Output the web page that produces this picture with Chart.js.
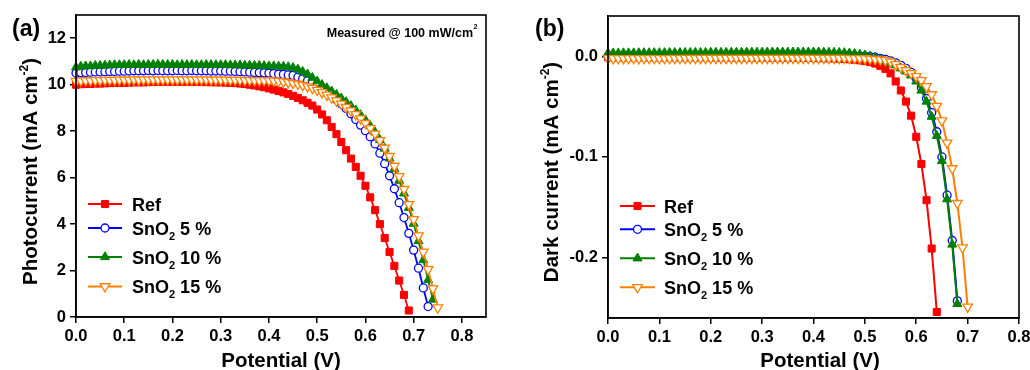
<!DOCTYPE html>
<html><head><meta charset="utf-8">
<script src="https://cdn.jsdelivr.net/npm/chart.js@4.4.1/dist/chart.umd.min.js"></script>
<style>
html,body{margin:0;padding:0;background:#fff;}
#wrap{position:relative;width:1030px;height:370px;overflow:hidden;background:#fff;}
canvas{position:absolute;top:0;}
#ca{left:0;} #cb{left:515px;}
</style></head><body>
<div id="wrap">
<canvas id="ca" width="515" height="370" style="width:515px;height:370px"></canvas>
<canvas id="cb" width="515" height="370" style="width:515px;height:370px"></canvas>
</div>
<script>
// ---------- DATA ----------
const potentialA = [0.00,0.01,0.02,0.03,0.04,0.05,0.06,0.07,0.08,0.09,
 0.10,0.11,0.12,0.13,0.14,0.15,0.16,0.17,0.18,0.19,
 0.20,0.21,0.22,0.23,0.24,0.25,0.26,0.27,0.28,0.29,
 0.30,0.31,0.32,0.33,0.34,0.35,0.36,0.37,0.38,0.39,
 0.40,0.41,0.42,0.43,0.44,0.45,0.46,0.47,0.48,0.49,
 0.50,0.51,0.52,0.53,0.54,0.55,0.56,0.57,0.58,0.59,
 0.60,0.61,0.62,0.63,0.64,0.65,0.66,0.67,0.68,0.69,
 0.70,0.71,0.72,0.73,0.74,0.75];
const potentialB = potentialA.slice(0, 71);

// (a) photocurrent, mA cm-2
const refA = [10.00,10.02,10.03,10.03,10.05,10.05,10.06,10.07,10.08,10.08,
 10.08,10.09,10.10,10.10,10.10,10.11,10.12,10.12,10.12,10.12,
 10.13,10.13,10.12,10.13,10.12,10.12,10.12,10.11,10.11,10.10,
 10.10,10.09,10.08,10.07,10.05,10.03,10.00,9.97,9.93,9.89,
 9.84,9.79,9.73,9.67,9.60,9.52,9.43,9.33,9.22,9.10,
 8.93,8.72,8.47,8.18,7.87,7.53,7.18,6.82,6.46,6.08,
 5.65,5.15,4.60,4.00,3.40,2.80,2.20,1.57,0.95,0.28];
const sno5A = [10.50,10.52,10.53,10.54,10.55,10.55,10.56,10.57,10.57,10.58,
 10.58,10.59,10.60,10.60,10.60,10.61,10.60,10.61,10.60,10.60,
 10.60,10.61,10.60,10.60,10.61,10.60,10.60,10.60,10.59,10.59,
 10.59,10.58,10.58,10.57,10.56,10.55,10.54,10.53,10.52,10.51,
 10.50,10.48,10.46,10.44,10.42,10.40,10.33,10.25,10.17,10.07,
 9.95,9.82,9.68,9.52,9.35,9.17,8.98,8.75,8.50,8.26,
 8.02,7.76,7.45,7.05,6.60,6.08,5.52,4.92,4.28,3.60,
 2.88,2.10,1.25,0.45];
const sno10A = [10.75,10.78,10.80,10.80,10.82,10.82,10.83,10.84,10.85,10.85,
 10.85,10.86,10.85,10.86,10.85,10.86,10.86,10.87,10.86,10.86,
 10.86,10.85,10.86,10.85,10.86,10.85,10.85,10.86,10.85,10.85,
 10.85,10.85,10.84,10.84,10.84,10.83,10.83,10.82,10.82,10.81,
 10.80,10.80,10.79,10.78,10.76,10.73,10.66,10.56,10.45,10.30,
 10.15,10.00,9.86,9.72,9.57,9.42,9.26,9.09,8.90,8.70,
 8.48,8.22,7.95,7.62,7.25,6.83,6.37,5.87,5.32,4.70,
 4.02,3.27,2.45,1.60,0.75];
const sno15A = [10.15,10.17,10.18,10.18,10.19,10.19,10.20,10.20,10.20,10.21,
 10.21,10.21,10.22,10.21,10.22,10.22,10.22,10.22,10.22,10.22,
 10.22,10.22,10.22,10.22,10.22,10.22,10.22,10.22,10.21,10.21,
 10.21,10.21,10.20,10.20,10.20,10.19,10.19,10.18,10.18,10.18,
 10.18,10.17,10.15,10.13,10.10,10.07,10.03,9.98,9.92,9.85,
 9.77,9.67,9.56,9.44,9.31,9.17,9.03,8.88,8.72,8.54,
 8.34,8.12,7.88,7.60,7.28,6.92,6.50,6.05,5.50,4.85,
 4.20,3.50,2.80,2.05,1.22,0.40];

// (b) dark current, mA cm-2
const refB = [-0.0010,-0.0010,-0.0011,-0.0010,-0.0010,-0.0011,-0.0010,-0.0010,-0.0011,-0.0010,
 -0.0010,-0.0011,-0.0010,-0.0010,-0.0011,-0.0010,-0.0010,-0.0011,-0.0010,-0.0010,
 -0.0010,-0.0011,-0.0011,-0.0010,-0.0011,-0.0011,-0.0011,-0.0012,-0.0011,-0.0012,
 -0.0012,-0.0012,-0.0013,-0.0013,-0.0013,-0.0014,-0.0014,-0.0015,-0.0015,-0.0016,
 -0.0017,-0.0018,-0.0019,-0.0020,-0.0022,-0.0024,-0.0027,-0.0030,-0.0034,-0.0040,
 -0.0048,-0.0058,-0.0072,-0.0095,-0.0125,-0.0170,-0.0250,-0.0340,-0.0450,-0.0590,
 -0.0800,-0.1070,-0.1430,-0.1910,-0.2540];
const sno5B = [-0.0003,-0.0003,-0.0004,-0.0003,-0.0003,-0.0004,-0.0003,-0.0003,-0.0004,-0.0004,
 -0.0004,-0.0004,-0.0005,-0.0004,-0.0005,-0.0005,-0.0005,-0.0005,-0.0006,-0.0006,
 -0.0006,-0.0006,-0.0007,-0.0007,-0.0007,-0.0007,-0.0008,-0.0008,-0.0008,-0.0008,
 -0.0009,-0.0009,-0.0009,-0.0009,-0.0010,-0.0010,-0.0010,-0.0010,-0.0010,-0.0010,
 -0.0010,-0.0010,-0.0010,-0.0009,-0.0008,-0.0007,-0.0005,-0.0003,-0.0001,0.0000,
 0.0000,-0.0005,-0.0010,-0.0020,-0.0030,-0.0045,-0.0065,-0.0090,-0.0120,-0.0160,
 -0.0220,-0.0310,-0.0420,-0.0560,-0.0750,-0.1000,-0.1380,-0.1830,-0.2430];
const sno10B = [0.0030,0.0031,0.0031,0.0032,0.0032,0.0032,0.0033,0.0033,0.0033,0.0034,
 0.0034,0.0034,0.0035,0.0035,0.0035,0.0035,0.0036,0.0036,0.0036,0.0036,
 0.0037,0.0037,0.0037,0.0037,0.0038,0.0038,0.0038,0.0038,0.0039,0.0039,
 0.0039,0.0039,0.0040,0.0040,0.0040,0.0040,0.0040,0.0040,0.0040,0.0040,
 0.0040,0.0040,0.0039,0.0038,0.0037,0.0036,0.0034,0.0030,0.0025,0.0018,
 0.0010,0.0000,-0.0015,-0.0030,-0.0050,-0.0070,-0.0090,-0.0120,-0.0150,-0.0190,
 -0.0250,-0.0340,-0.0450,-0.0600,-0.0790,-0.1040,-0.1420,-0.1870,-0.2460];
const sno15B = [-0.0021,-0.0021,-0.0020,-0.0021,-0.0020,-0.0020,-0.0021,-0.0020,-0.0020,-0.0020,
 -0.0020,-0.0020,-0.0020,-0.0019,-0.0020,-0.0019,-0.0019,-0.0020,-0.0019,-0.0019,
 -0.0019,-0.0019,-0.0019,-0.0019,-0.0018,-0.0019,-0.0018,-0.0018,-0.0018,-0.0018,
 -0.0018,-0.0018,-0.0018,-0.0018,-0.0018,-0.0018,-0.0018,-0.0018,-0.0019,-0.0019,
 -0.0019,-0.0019,-0.0019,-0.0019,-0.0019,-0.0019,-0.0019,-0.0020,-0.0020,-0.0021,
 -0.0022,-0.0025,-0.0030,-0.0034,-0.0040,-0.0055,-0.0080,-0.0110,-0.0140,-0.0170,
 -0.0200,-0.0240,-0.0300,-0.0380,-0.0495,-0.0640,-0.0860,-0.1115,-0.1460,-0.1900,
 -0.2490];

// tick values and labels
const xTicksA = [0,0.1,0.2,0.3,0.4,0.5,0.6,0.7,0.8];
const xTickLabelsA = ['0.0','0.1','0.2','0.3','0.4','0.5','0.6','0.7','0.8'];
const yTicksA = [0,2,4,6,8,10,12];
const yTickLabelsA = ['0','2','4','6','8','10','12'];
const xTicksB = [0,0.1,0.2,0.3,0.4,0.5,0.6,0.7,0.8];
const xTickLabelsB = ['0.0','0.1','0.2','0.3','0.4','0.5','0.6','0.7','0.8'];
const yTicksB = [-0.2,-0.1,0.0];
const yTickLabelsB = ['-0.2','-0.1','0.0'];

// legend labels: [main, subscript, rest]
const seriesLabels = [['Ref','',''],['SnO','2',' 5 %'],['SnO','2',' 10 %'],['SnO','2',' 15 %']];

// ---------- STYLE ----------
const FAM = "'Liberation Sans', Arial, Helvetica, sans-serif";
const STY = [
  {color:'#ff0000', point:'rect', r:5, fill:'#ff0000', rot:0, bw:1},
  {color:'#0000ff', point:'circle', r:4, fill:'#ffffff', rot:0, bw:1.3},
  {color:'#008000', point:'triangle', r:5.2, fill:'#008000', rot:0, bw:1},
  {color:'#ff8000', point:'triangle', r:5.5, fill:'#ffffff', rot:180, bw:1.3}
];

function pts(xs, ys){ return ys.map((y,i)=>({x:xs[i], y:y})); }

function makeDatasets(xs, seriesList, lw){
  return seriesList.map((ys,i)=>({
    label: seriesLabels[i].join(''),
    data: pts(xs, ys),
    borderColor: STY[i].color,
    backgroundColor: STY[i].color,
    borderWidth: lw,
    pointStyle: STY[i].point,
    pointRadius: STY[i].r,
    pointHoverRadius: STY[i].r,
    pointRotation: STY[i].rot,
    pointBackgroundColor: STY[i].fill,
    pointBorderColor: STY[i].color,
    pointBorderWidth: STY[i].bw,
    tension: 0,
    fill: false,
    clip: false,
    order: 4 - i
  }));
}

function drawMarker(ctx, s, x, y){
  ctx.save();
  ctx.beginPath();
  const r = s.r;
  if (s.point === 'rect'){
    const h = r*Math.SQRT1_2; ctx.rect(x-h, y-h, 2*h, 2*h);
  } else if (s.point === 'circle'){
    ctx.arc(x, y, r, 0, Math.PI*2);
  } else {
    let rad = s.rot*Math.PI/180;
    ctx.moveTo(x+Math.sin(rad)*r, y-Math.cos(rad)*r);
    rad += 2*Math.PI/3; ctx.lineTo(x+Math.sin(rad)*r, y-Math.cos(rad)*r);
    rad += 2*Math.PI/3; ctx.lineTo(x+Math.sin(rad)*r, y-Math.cos(rad)*r);
    ctx.closePath();
  }
  ctx.fillStyle = s.fill; ctx.fill();
  ctx.lineWidth = s.bw; ctx.strokeStyle = s.color; ctx.stroke();
  ctx.restore();
}

// parts: [{t, size, dy}] ; draws bold text pieces
function drawParts(ctx, parts, x, y, align){
  let total = 0;
  parts.forEach(p=>{ ctx.font = 'bold '+p.size+'px '+FAM; p.w = ctx.measureText(p.t).width; total += p.w; });
  let cx = align==='center' ? x-total/2 : (align==='right' ? x-total : x);
  ctx.textAlign = 'left'; ctx.textBaseline = 'alphabetic'; ctx.fillStyle = '#000';
  parts.forEach(p=>{ ctx.font = 'bold '+p.size+'px '+FAM; ctx.fillText(p.t, cx, y+(p.dy||0)); cx += p.w; });
}

function legend(ctx, rows, lx1, lx2, mx, tx){
  seriesLabels.forEach((lab,i)=>{
    const y = rows[i], s = STY[i];
    ctx.save();
    ctx.strokeStyle = s.color; ctx.lineWidth = 2;
    ctx.beginPath(); ctx.moveTo(lx1, y); ctx.lineTo(lx2, y); ctx.stroke();
    ctx.restore();
    drawMarker(ctx, s, mx, y);
    const parts = [{t:lab[0], size:18}];
    if (lab[1]) parts.push({t:lab[1], size:11, dy:5});
    if (lab[2]) parts.push({t:lab[2], size:18});
    drawParts(ctx, parts, tx, y+6.5, 'left');
  });
}

function frame(chart){
  const a = chart.chartArea, ctx = chart.ctx;
  ctx.save(); ctx.strokeStyle = '#000'; ctx.lineWidth = 1.6;
  ctx.strokeRect(a.left, a.top, a.right-a.left, a.bottom-a.top);
  ctx.restore();
}

function axisCfg(min, max, ticks, labels, fitSize, isX){
  return {
    type:'linear', min:min, max:max,
    afterBuildTicks: ax => { ax.ticks = ticks.map(v=>({value:v})); },
    afterFit: s => {
      if (isX) s.height = fitSize; else s.width = fitSize;
      s.paddingLeft = 0; s.paddingRight = 0; s.paddingTop = 0; s.paddingBottom = 0;
    },
    ticks:{ font:{family:FAM, size:16.5, weight:'bold'}, color:'#000', padding:4,
            autoSkip:false, maxRotation:0, minRotation:0,
            callback:(v,i)=>labels[i] },
    grid:{ display:true, drawOnChartArea:false, drawTicks:true, tickLength:6, color:'#000', lineWidth:1.5 },
    border:{ display:true, color:'#000', width:1.6 },
    title:{ display:false }
  };
}

// ---------- CHART (a) ----------
new Chart(document.getElementById('ca'), {
  type:'line',
  data:{ datasets: makeDatasets(potentialA, [refA, sno5A, sno10A, sno15A], 1.8) },
  options:{
    responsive:false, animation:false, devicePixelRatio:1, events:[],
    layout:{ padding:{left:0, top:15, right:29, bottom:0} },
    scales:{
      x: axisCfg(0, 0.85, xTicksA, xTickLabelsA, 53, true),
      y: axisCfg(0, 13, yTicksA, yTickLabelsA, 76, false)
    },
    plugins:{ legend:{display:false}, tooltip:{enabled:false} }
  },
  plugins:[{ id:'decorA', afterDraw(chart){
    const ctx = chart.ctx;
    frame(chart);
    ctx.save();
    drawParts(ctx, [{t:'(a)', size:23}], 12, 35.5, 'left');
    drawParts(ctx, [{t:'Potential (V)', size:20.5}], 281, 366.5, 'center');
    ctx.save(); ctx.translate(36.5, 171.5); ctx.rotate(-Math.PI/2);
    drawParts(ctx, [{t:'Photocurrent (mA cm', size:20.5},{t:'-2', size:12, dy:-9},{t:')', size:20.5}], 0, 0, 'center');
    ctx.restore();
    drawParts(ctx, [{t:'Measured @ 100 mW/cm', size:12.5}], 473, 36.5, 'right');
    drawParts(ctx, [{t:'2', size:7}], 473.5, 28.5, 'left');
    legend(ctx, [204, 228, 257, 286.5], 88, 122, 105, 132);
    ctx.restore();
  }}]
});

// ---------- CHART (b) ----------
new Chart(document.getElementById('cb'), {
  type:'line',
  data:{ datasets: makeDatasets(potentialB, [refB, sno5B, sno10B, sno15B], 2) },
  options:{
    responsive:false, animation:false, devicePixelRatio:1, events:[],
    layout:{ padding:{left:0, top:16, right:11, bottom:0} },
    scales:{
      x: axisCfg(0, 0.8, xTicksB, xTickLabelsB, 52, true),
      y: axisCfg(-0.26, 0.04, yTicksB, yTickLabelsB, 93, false)
    },
    plugins:{ legend:{display:false}, tooltip:{enabled:false} }
  },
  plugins:[{ id:'decorB', afterDraw(chart){
    const ctx = chart.ctx;
    frame(chart);
    ctx.save();
    drawParts(ctx, [{t:'(b)', size:23}], 20, 35.5, 'left');
    drawParts(ctx, [{t:'Potential (V)', size:20.5}], 305, 366.5, 'center');
    ctx.save(); ctx.translate(42.5, 172); ctx.rotate(-Math.PI/2);
    drawParts(ctx, [{t:'Dark current (mA cm', size:20.5},{t:'-2', size:12, dy:-9},{t:')', size:20.5}], 0, 0, 'center');
    ctx.restore();
    legend(ctx, [206, 229.3, 258.3, 287.3], 105, 140, 122.5, 149);
    ctx.restore();
  }}]
});
</script>
</body></html>
